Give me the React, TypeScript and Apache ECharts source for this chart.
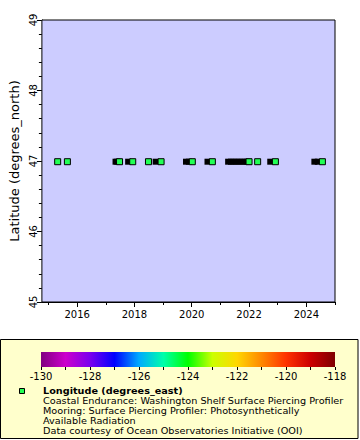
import React, { useEffect, useRef } from "react";
import * as echarts from "echarts";

// Decimal-year times of the green (deployment) markers, all at latitude ~47 N
const greenYears = [2015.32, 2015.66, 2017.48, 2017.94, 2018.49, 2018.93, 2020.02, 2020.72, 2022.0, 2022.3, 2022.92, 2024.56];
// Decimal-year times of black markers
const blackYears = [2017.34, 2017.4, 2017.78, 2018.74, 2019.8, 2019.9, 2020.55, 2021.27, 2021.37, 2021.47, 2021.57, 2021.67, 2021.77, 2021.87, 2021.95, 2022.74, 2024.28, 2024.4];
const latitude = 46.99;
const xMajorTicks = [2016, 2018, 2020, 2022, 2024];
const xMinorTicks = [2015, 2017, 2019, 2021, 2023, 2025];
const xMin = 2014.77;
const xMax = 2025.0;
const colorbarMin = -130;
const colorbarMax = -118;
const colorbarStops = ["#800080", "#cc00cc", "#7a00ee", "#0000ff", "#00aaff", "#00ffaa", "#00ff00", "#ccff00", "#ffd700", "#ff8800", "#ff3300", "#cc0000", "#7f0000"];
const legendTitle = "Longitude (degrees_east)";
const legendLines = [
  "Coastal Endurance: Washington Shelf Surface Piercing Profiler",
  "Mooring: Surface Piercing Profiler: Photosynthetically",
  "Available Radiation",
  "Data courtesy of Ocean Observatories Initiative (OOI)",
];
const markerGreen = "#22ff55";

export default function App() {
  const ref = useRef<HTMLDivElement>(null);
  useEffect(() => {
    document.body.style.margin = "0";
    const chart = echarts.init(ref.current!, null, { renderer: "svg" });
    const font = "DejaVu Sans";
    const gradient = new echarts.graphic.LinearGradient(
      0, 0, 1, 0,
      colorbarStops.map((c, i) => ({ offset: i / (colorbarStops.length - 1), color: c }))
    );
    const legendFontSize = 8.5;
    const legendScaleX = 1.14;
    const lineStep = 10;
    chart.setOption({
      animation: false,
      backgroundColor: "#ffffff",
      textStyle: { fontFamily: font },
      grid: [
        { left: 36, top: 20, width: 299, height: 282, show: true, backgroundColor: "#ccccff", borderColor: "#000", borderWidth: 1, z: 2 },
        { left: 41, top: 352, width: 294, height: 15, show: true, backgroundColor: gradient, borderWidth: 0, z: 2 },
      ],
      xAxis: [
        {
          gridIndex: 0, type: "value", min: xMin, max: xMax,
          axisLine: { show: true, lineStyle: { color: "#000", width: 1 } },
          axisTick: { show: true, length: 5, customValues: xMajorTicks, lineStyle: { color: "#000" } },
          axisLabel: { customValues: xMajorTicks, color: "#000", fontSize: 10, margin: 7, fontFamily: font, formatter: (v: number) => String(Math.round(v)) },
          splitLine: { show: false },
        },
        {
          gridIndex: 0, type: "value", min: xMin, max: xMax, position: "bottom",
          axisLine: { show: false },
          axisTick: { show: true, length: 3, customValues: xMinorTicks, lineStyle: { color: "#000" } },
          axisLabel: { show: false },
          splitLine: { show: false },
        },
        {
          gridIndex: 1, type: "value", min: colorbarMin, max: colorbarMax, interval: 2,
          axisLine: { show: false },
          axisTick: { show: true, length: 3, lineStyle: { color: "#000" } },
          minorTick: { show: true, splitNumber: 2, length: 3, lineStyle: { color: "#000" } },
          axisLabel: { color: "#000", fontSize: 10, margin: 4, fontFamily: font },
          splitLine: { show: false },
        },
      ],
      yAxis: [
        {
          gridIndex: 0, type: "value", min: 45, max: 49, interval: 1,
          axisLine: { show: true, lineStyle: { color: "#000", width: 1 } },
          axisTick: { show: true, length: 5, lineStyle: { color: "#000" } },
          minorTick: { show: true, splitNumber: 5, length: 3, lineStyle: { color: "#000" } },
          axisLabel: { rotate: 90, color: "#000", fontSize: 10, margin: 3, fontFamily: font },
          splitLine: { show: false },
          name: "Latitude (degrees_north)", nameLocation: "middle", nameGap: 20,
          nameTextStyle: { color: "#000", fontSize: 13, fontFamily: font },
        },
        { gridIndex: 1, type: "value", min: 0, max: 1, show: false },
      ],
      series: [
        {
          type: "scatter", xAxisIndex: 0, yAxisIndex: 0, symbol: "rect", symbolSize: 6, z: 3,
          itemStyle: { color: "#000", opacity: 1 },
          data: blackYears.map((t) => [t, latitude]),
        },
        {
          type: "scatter", xAxisIndex: 0, yAxisIndex: 0, symbol: "rect", symbolSize: 6, z: 4,
          itemStyle: { color: markerGreen, borderColor: "#000", borderWidth: 1, opacity: 1 },
          data: greenYears.map((t) => [t, latitude]),
        },
      ],
      graphic: [
        { type: "rect", z: -10, shape: { x: 0.5, y: 339.5, width: 357.5, height: 99 }, style: { fill: "#ffffcc", stroke: "#000", lineWidth: 1 } },
        { type: "rect", z: 10, shape: { x: 19.5, y: 388.5, width: 5, height: 5 }, style: { fill: markerGreen, stroke: "#000", lineWidth: 1 } },
        {
          type: "text", z: 10, x: 43, y: 391, scaleX: legendScaleX,
          style: { text: legendTitle, fill: "#000", font: `bold ${legendFontSize}px "${font}"`, textVerticalAlign: "middle" },
        },
        ...legendLines.map((t, i) => ({
          type: "text", z: 10, x: 43, y: 391 + (i + 1) * lineStep, scaleX: legendScaleX,
          style: { text: t, fill: "#000", font: `${legendFontSize}px "${font}"`, textVerticalAlign: "middle" },
        })),
      ],
    });
    return () => chart.dispose();
  }, []);
  return <div ref={ref} style={{ width: 360, height: 440 }} />;
}
